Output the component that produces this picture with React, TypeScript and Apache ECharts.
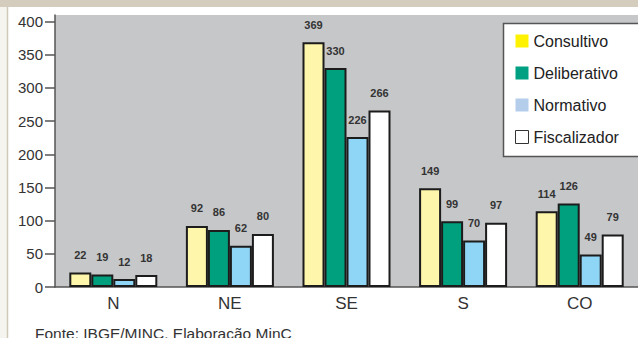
import React, { useEffect, useRef } from "react";
import * as echarts from "echarts";

const categories = ["N", "NE", "SE", "S", "CO"];
const consultivo = [22, 92, 369, 149, 114];
const deliberativo = [19, 86, 330, 99, 126];
const normativo = [12, 62, 226, 70, 49];
const fiscalizador = [18, 80, 266, 97, 79];
const yTicks = [0, 50, 100, 150, 200, 250, 300, 350, 400];
const sourceNote = "Fonte: IBGE/MINC. Elaboração MinC";

const FONT = "'Liberation Sans', Arial, sans-serif";

export default function App() {
  const ref = useRef<HTMLDivElement>(null);
  useEffect(() => {
    if (!ref.current) return;
    const chart = echarts.init(ref.current, undefined, { renderer: "svg" });
    const mk = (name: string, data: number[], color: string) => ({
      name,
      type: "bar",
      data,
      barWidth: 22,
      barGap: "0%",
      itemStyle: { color, borderColor: "#1c1c1c", borderWidth: 2 },
      label: {
        show: true,
        position: "top",
        distance: 12,
        fontSize: 11,
        fontWeight: "bold",
        color: "#333",
        fontFamily: FONT,
      },
    });
    chart.setOption({
      animation: false,
      backgroundColor: "#ffffff",
      textStyle: { fontFamily: FONT },
      grid: {
        left: 55,
        top: 15,
        width: 598,
        height: 272,
        show: true,
        backgroundColor: "#c6c7c9",
        borderWidth: 0,
        containLabel: false,
      },
      xAxis: {
        type: "category",
        data: categories,
        axisLine: { lineStyle: { color: "#555", width: 1.5 } },
        axisTick: { length: 4, lineStyle: { color: "#555", width: 1.5 } },
        axisLabel: { fontSize: 17, color: "#333", margin: 8, fontFamily: FONT },
      },
      yAxis: {
        type: "value",
        min: 0,
        max: 410,
        interval: 50,
        splitLine: { show: false },
        axisLine: { show: true, lineStyle: { color: "#555", width: 1.5 } },
        axisTick: {
          show: true,
          length: 10,
          customValues: yTicks,
          lineStyle: { color: "#555", width: 1.5 },
        },
        axisLabel: {
          fontSize: 15,
          color: "#333",
          margin: 12,
          customValues: yTicks,
          fontFamily: FONT,
        },
      },
      legend: {
        orient: "vertical",
        left: 503,
        top: 23,
        padding: [10, 12, 12, 12],
        itemGap: 16,
        itemWidth: 13,
        itemHeight: 13,
        icon: "rect",
        backgroundColor: "transparent",
        borderWidth: 0,
        textStyle: { fontSize: 16, color: "#222", fontFamily: FONT },
        data: [
          { name: "Consultivo", itemStyle: { color: "#fff200", borderWidth: 0 } },
          { name: "Deliberativo", itemStyle: { color: "#00a082", borderWidth: 0 } },
          { name: "Normativo", itemStyle: { color: "#b3cdeb", borderWidth: 0 } },
          {
            name: "Fiscalizador",
            itemStyle: { color: "#ffffff", borderColor: "#333", borderWidth: 1 },
          },
        ],
      },
      graphic: [
        { type: "rect", shape: { x: 0, y: 0, width: 638, height: 7 }, style: { fill: "#d4ccbc" } },
        { type: "rect", shape: { x: 0, y: 7, width: 7, height: 331 }, style: { fill: "#f6f4ef" } },
        { type: "line", shape: { x1: 7.5, y1: 7, x2: 7.5, y2: 338 }, style: { stroke: "#d0c9b9", lineWidth: 1.5 } },
        {
          type: "rect",
          z: 3,
          shape: { x: 503.5, y: 23.5, width: 150, height: 133 },
          style: { fill: "#ffffff", stroke: "#555", lineWidth: 1.5 },
        },
        {
          type: "text",
          left: 35,
          top: 325,
          style: { text: sourceNote, fontSize: 15.5, fill: "#333", fontFamily: FONT },
        },
      ],
      series: [
        mk("Consultivo", consultivo, "#fef6aa"),
        mk("Deliberativo", deliberativo, "#00a07e"),
        mk("Normativo", normativo, "#8fd6f6"),
        mk("Fiscalizador", fiscalizador, "#ffffff"),
      ],
    });
    return () => chart.dispose();
  }, []);
  return (
    <div
      ref={ref}
      style={{ position: "absolute", left: 0, top: 0, width: 638, height: 338, overflow: "hidden" }}
    />
  );
}
